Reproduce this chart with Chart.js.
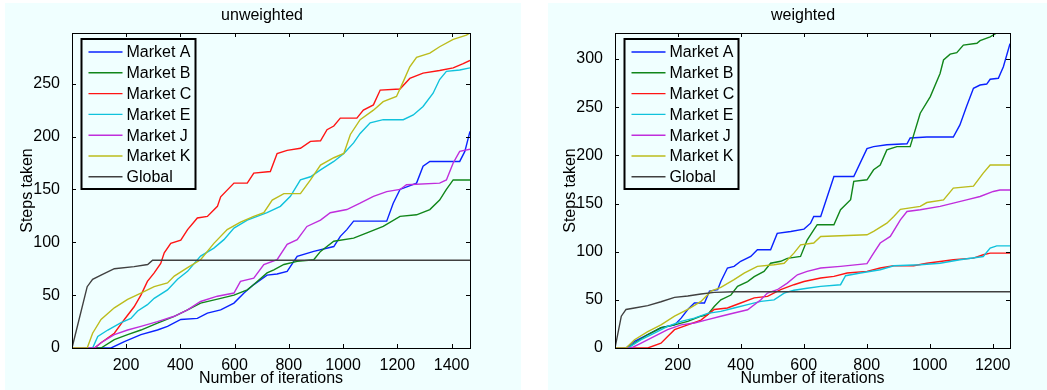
<!DOCTYPE html>
<html lang="en">
<head>
    <meta charset="UTF-8">
    <title>Steps taken: unweighted vs weighted</title>
    <script src="https://cdn.jsdelivr.net/npm/chart.js"></script>
    <style>
        body { margin: 0; background: #ffffff; width: 1047px; height: 390px; overflow: hidden; position: relative; }
        canvas { position: absolute; background: #f0ffff; }
        #leftChart { left: 5px; top: 3px; }
        #rightChart { left: 548px; top: 3px; }
    </style>
</head>
<body>
    <canvas id="leftChart" width="516" height="387"></canvas>
    <canvas id="rightChart" width="499" height="387"></canvas>

    <script>
        // series names and colours (MATLAB default order)
        var seriesNames = ['Market A', 'Market B', 'Market C', 'Market E', 'Market J', 'Market K', 'Global'];
        var seriesColors = ['#0a22ff', '#11861a', '#ff1414', '#10c2dc', '#c02edc', '#bcbc1c', '#404040'];

        // unweighted: [iteration, steps taken]
        var uwA = [[1,0],[145,0],[194,6],[255,12.6],[316,17],[353,20.5],[402,27],[463,28],[500,33],[549,36],[598,42.5],[635,52],[671,60],[720,69],[757,70],[794,72.5],[831,86.7],[892,91.4],[966,96],[990,105.6],[1014,112],[1039,120],[1161,120],[1185,137],[1210,150],[1271,156],[1295,172],[1320,176.5],[1430,176.5],[1449,186],[1468,205]];
        var uwB = [[1,0],[108,0],[157,8],[206,12.6],[255,17],[316,23.6],[378,30],[427,36],[475,42.5],[549,47],[598,50],[647,55],[671,60],[720,71],[745,74],[782,79],[831,82],[892,83.5],[917,91.4],[966,101],[1039,104],[1088,109],[1148,115],[1210,124.5],[1271,126],[1320,131],[1356,140],[1381,150],[1406,159],[1468,159]];
        var uwC = [[1,0],[84,0],[108,5],[157,14],[194,27],[230,39],[255,50],[279,63],[304,71],[328,80],[341,90],[365,99],[402,102],[427,112],[463,123],[500,124.5],[537,134],[549,143],[598,156],[647,156],[671,165.5],[732,167],[757,184],[794,187],[843,189],[880,195.5],[917,196],[941,206.5],[966,210],[990,217.5],[1051,217.5],[1075,225],[1112,230],[1137,244],[1210,245],[1246,255],[1295,260],[1356,262.5],[1406,265],[1443,269],[1468,272]];
        var uwE = [[1,0],[77,0],[96,11],[133,17],[182,24],[218,28],[243,35],[279,41],[304,47],[353,55],[390,65],[427,72.5],[475,87],[524,94.5],[561,102.5],[598,113.5],[647,121],[720,128],[769,134],[806,143.5],[843,159],[880,162],[917,168.5],[966,176.5],[1003,184],[1039,194],[1063,203],[1100,213],[1148,216],[1222,216],[1259,220.5],[1295,228.5],[1332,241],[1356,254],[1381,261.7],[1430,263],[1468,265]];
        var uwJ = [[1,0],[84,0],[108,5],[157,12.6],[206,17],[255,20.5],[316,25],[378,30],[427,36],[475,44],[537,49],[598,52],[622,63],[671,66],[708,79],[757,83.5],[794,98],[831,102.5],[867,115],[917,121],[953,128],[1014,131],[1063,137],[1112,143.5],[1161,148],[1210,150],[1234,154.5],[1356,156],[1381,159],[1406,175],[1430,186],[1468,188]];
        var uwK = [[1,0],[57,0],[77,14],[108,27],[157,38],[206,46],[255,52],[304,58],[353,61.5],[378,68],[427,76],[475,83.5],[524,99],[573,112],[622,119],[671,124.5],[708,128],[739,140],[782,146],[843,146],[880,159],[917,173],[966,180],[1003,184],[1027,202],[1063,216],[1112,225],[1148,233],[1197,238],[1222,252],[1246,266],[1271,275],[1320,279],[1356,285],[1406,292],[1455,296],[1468,298]];
        var uwG = [[1,0],[57,58],[77,65],[108,69],[157,75],[230,77],[280,79],[298,83],[1468,83]];

        // weighted: [iteration, steps taken]
        var wA = [[1,0],[36,0],[63,7],[105,14],[147,21],[190,24],[211,31],[232,40],[253,46.7],[285,46.7],[301,59],[327,60.5],[337,69],[358,83],[379,84.7],[400,90],[432,95],[453,102],[495,102],[516,119],[559,121],[601,123.4],[622,129.6],[632,136.5],[654,136.5],[696,178],[759,178],[801,207],[822,209],[864,211],[928,212],[938,218],[991,219],[1075,219],[1096,231.6],[1117,250.6],[1139,269.6],[1160,273],[1181,274],[1192,279],[1218,280],[1234,292],[1255,316]];
        var wB = [[1,0],[42,0],[63,5],[105,14],[147,21],[190,24],[232,27.7],[274,33],[295,34.6],[316,43],[337,50],[369,55],[390,64],[422,69],[443,74],[474,79.5],[495,88],[527,90],[548,93],[590,95],[611,112],[632,122.7],[643,128],[696,128],[717,143.5],[749,154],[759,173],[801,174.6],[822,185],[843,190],[864,205.7],[896,209],[938,209],[970,243.7],[1002,261],[1033,285],[1044,299],[1065,305],[1086,306.6],[1107,314.5],[1150,316.3],[1160,319],[1192,323],[1213,327],[1255,327]];
        var wC = [[1,0],[105,0],[147,5],[168,12],[190,19],[232,24],[274,29],[316,40],[358,41.5],[400,46.7],[443,52],[485,53.6],[527,60.5],[569,65.7],[601,69],[654,72.6],[696,74.3],[738,77.8],[801,79.5],[843,83],[886,85.4],[949,85.4],[991,88],[1075,91.6],[1139,93.3],[1170,96.8],[1192,98.5],[1255,98.5]];
        var wE = [[1,0],[42,0],[84,8.6],[126,15.5],[168,22.5],[211,27.7],[253,31],[295,36],[337,38],[379,41.5],[422,45],[464,48.4],[506,50],[538,57],[569,60],[611,62],[654,64],[717,65.7],[733,75],[780,77.8],[843,81.2],[886,85.4],[970,86.4],[1033,88],[1096,91.6],[1170,95],[1192,103.7],[1213,106],[1255,106]];
        var wJ = [[1,0],[53,0],[84,5],[126,12],[168,19],[211,24],[253,26],[295,29.4],[337,33],[379,36.3],[422,39.7],[464,50],[485,57],[516,60.5],[548,67.4],[580,76],[611,79.5],[654,83],[717,84.7],[801,87.5],[822,98.5],[843,109],[875,115.8],[907,133],[928,141.7],[970,143.5],[1033,147],[1075,150.4],[1117,153.8],[1160,157.3],[1202,162.5],[1223,164],[1255,164]];
        var wK = [[1,0],[36,0],[63,8.6],[105,17],[147,24],[190,33],[232,40],[274,48.4],[306,59],[337,63],[379,71],[411,77.8],[453,84.7],[506,86.4],[538,88],[569,98.5],[590,107],[632,109],[654,115.8],[717,116.5],[801,117.5],[822,121],[864,129.6],[886,136.5],[907,144],[970,147],[991,151],[1044,153.8],[1075,166],[1139,168],[1170,181.5],[1192,190],[1255,190]];
        var wG = [[1,0],[21,33],[36,40],[63,41.5],[105,44],[147,48],[190,52.5],[232,54],[274,56],[316,57.7],[379,58.4],[1255,58.4]];

        // tick labels
        var xTicksLeft = [200, 400, 600, 800, 1000, 1200, 1400];
        var yTicksLeft = [0, 50, 100, 150, 200, 250];
        var xTicksRight = [200, 400, 600, 800, 1000, 1200];
        var yTicksRight = [0, 50, 100, 150, 200, 250, 300];

        var FONT = 'Liberation Sans, Arial, Helvetica, sans-serif';

        // box, inward ticks, legend and panel title, drawn on top like matlab
        var decorPlugin = {
            id: 'decor',
            afterDatasetsDraw: function(chart, args, opts) {
                var ctx = chart.ctx;
                var a = chart.chartArea;
                var xs = chart.scales.x, ys = chart.scales.y;
                ctx.save();
                ctx.strokeStyle = '#000';
                ctx.lineWidth = 1;
                ctx.beginPath();
                xs.ticks.forEach(function(t) {
                    var px = Math.round(xs.getPixelForValue(t.value)) + 0.5;
                    ctx.moveTo(px, a.bottom); ctx.lineTo(px, a.bottom - 4);
                    ctx.moveTo(px, a.top); ctx.lineTo(px, a.top + 4);
                });
                ys.ticks.forEach(function(t) {
                    var py = Math.round(ys.getPixelForValue(t.value)) + 0.5;
                    ctx.moveTo(a.left, py); ctx.lineTo(a.left + 4, py);
                    ctx.moveTo(a.right, py); ctx.lineTo(a.right - 4, py);
                });
                ctx.stroke();
                ctx.strokeRect(Math.round(a.left) + 0.5, Math.round(a.top) + 0.5,
                               Math.round(a.right - a.left), Math.round(a.bottom - a.top));

                // legend
                var lx = a.left + 9.5, ly = a.top + 6;
                var lw = 114, lh = 150;
                ctx.fillStyle = '#f0ffff';
                ctx.fillRect(lx, ly, lw, lh);
                ctx.lineWidth = 2;
                ctx.strokeRect(lx, ly, lw, lh);
                ctx.font = '16px ' + FONT;
                ctx.textBaseline = 'middle';
                ctx.textAlign = 'left';
                chart.data.datasets.forEach(function(ds, i) {
                    var ry = ly + 13 + i * 20.8;
                    ctx.strokeStyle = ds.borderColor;
                    ctx.lineWidth = 1.4;
                    ctx.beginPath();
                    ctx.moveTo(lx + 7, ry); ctx.lineTo(lx + 41, ry);
                    ctx.stroke();
                    ctx.fillStyle = '#000';
                    ctx.fillText(ds.label, lx + 45, ry + 1);
                });

                // panel title
                ctx.fillStyle = '#000';
                ctx.textAlign = 'center';
                ctx.textBaseline = 'alphabetic';
                ctx.fillText(opts.text, opts.x, 16.5);
                ctx.restore();
            }
        };

        function makeDatasets(list) {
            return list.map(function(pts, i) {
                return {
                    label: seriesNames[i],
                    data: pts.map(function(p) { return { x: p[0], y: p[1] }; }),
                    borderColor: seriesColors[i],
                    borderWidth: 1.4,
                    pointRadius: 0,
                    fill: false,
                    tension: 0,
                    order: list.length - i
                };
            });
        }

        function plainLabel(v) { return String(v); }

        function makeChart(id, list, xMax, yMax, xTicks, yTicks, padRight, title, titleX) {
            var ctx = document.getElementById(id).getContext('2d');
            return new Chart(ctx, {
                type: 'line',
                data: { datasets: makeDatasets(list) },
                plugins: [decorPlugin],
                options: {
                    responsive: false,
                    animation: false,
                    devicePixelRatio: 1,
                    layout: { padding: { top: 30, right: padRight, bottom: 0, left: 0 } },
                    plugins: {
                        legend: { display: false },
                        tooltip: { enabled: false },
                        decor: { text: title, x: titleX }
                    },
                    scales: {
                        x: {
                            type: 'linear',
                            min: 1,
                            max: xMax,
                            grid: { display: false },
                            border: { display: false },
                            afterBuildTicks: function(scale) {
                                scale.ticks = xTicks.map(function(v) { return { value: v }; });
                            },
                            afterFit: function(scale) { scale.height = 42; },
                            ticks: { color: '#000', padding: 0, maxRotation: 0, callback: plainLabel,
                                     font: { family: FONT, size: 16 } },
                            title: {
                                display: true,
                                text: 'Number of iterations',
                                color: '#000',
                                font: { family: FONT, size: 16 },
                                padding: { top: 0, bottom: 2 }
                            }
                        },
                        y: {
                            min: 0,
                            max: yMax,
                            grid: { display: false },
                            border: { display: false },
                            afterBuildTicks: function(scale) {
                                scale.ticks = yTicks.map(function(v) { return { value: v }; });
                            },
                            afterFit: function(scale) { scale.width = 67; },
                            ticks: { color: '#000', padding: 4, callback: plainLabel,
                                     font: { family: FONT, size: 16 } },
                            title: {
                                display: true,
                                text: 'Steps taken',
                                color: '#000',
                                font: { family: FONT, size: 16 },
                                padding: { top: 12.5, bottom: 0 }
                            }
                        }
                    }
                }
            });
        }

        makeChart('leftChart', [uwA, uwB, uwC, uwE, uwJ, uwK, uwG], 1468, 298,
                  xTicksLeft, yTicksLeft, 51, 'unweighted', 257);
        makeChart('rightChart', [wA, wB, wC, wE, wJ, wK, wG], 1255, 327,
                  xTicksRight, yTicksRight, 37, 'weighted', 255);
    </script>
</body>
</html>
